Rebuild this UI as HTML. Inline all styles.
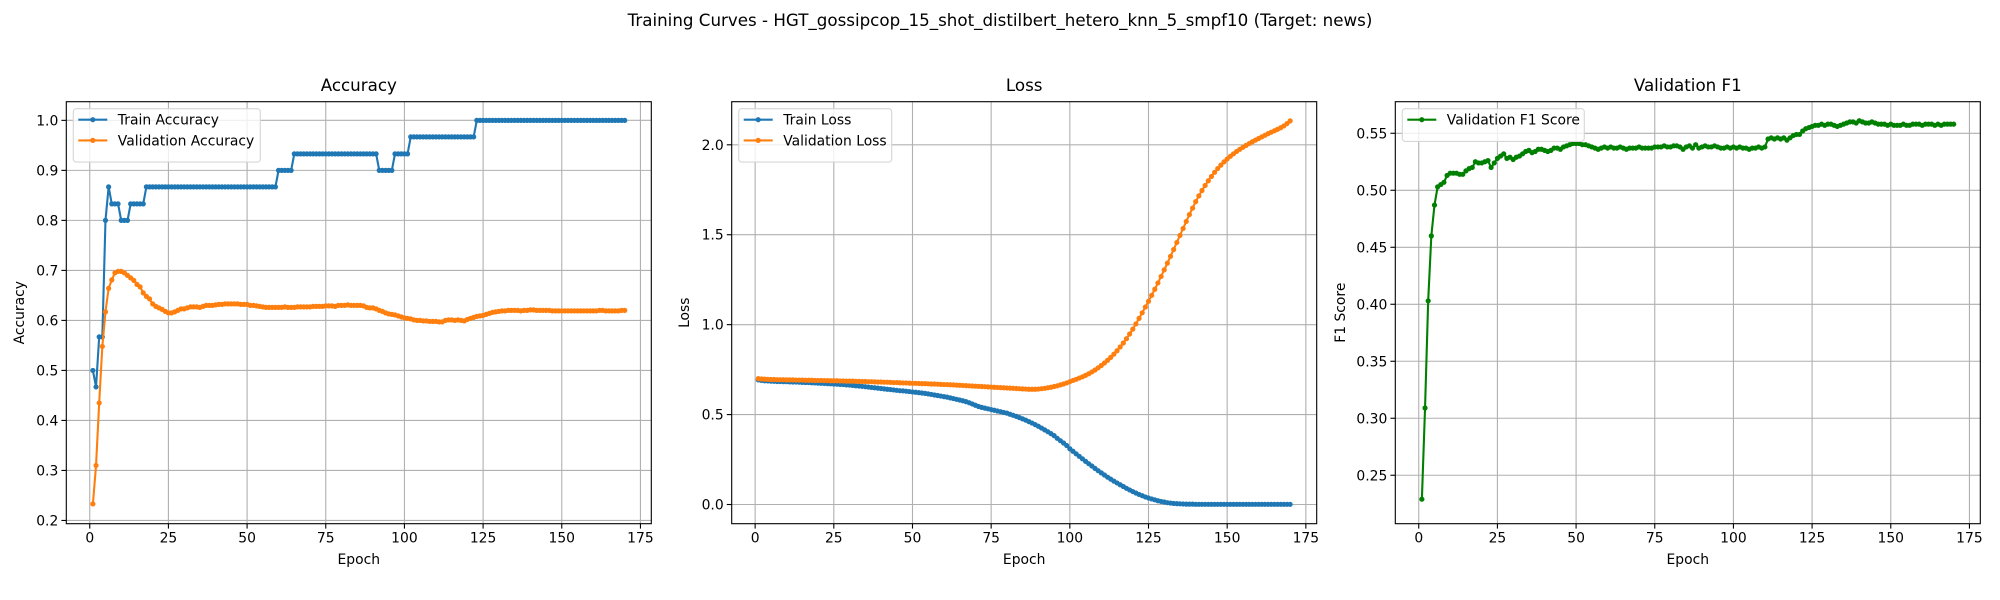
<!DOCTYPE html>
<html><head><meta charset="utf-8"><style>
html,body{margin:0;padding:0;background:#fff;}
svg{display:block;font-family:"DejaVu Sans","Liberation Sans",sans-serif;}
</style></head><body>
<svg id="fig" width="2000" height="600" viewBox="0 0 2000 600" xmlns="http://www.w3.org/2000/svg">
<rect width="2000" height="600" fill="#fff"/>
<text x="1000" y="26" text-anchor="middle" font-size="16.7" fill="#000">Training Curves - HGT_gossipcop_15_shot_distilbert_hetero_knn_5_smpf10 (Target: news)</text>
</svg>
<script>
const xTicks = [0,25,50,75,100,125,150,175];
const accTicks = [0.2,0.3,0.4,0.5,0.6,0.7,0.8,0.9,1.0];
const lossTicks = [0.0,0.5,1.0,1.5,2.0];
const f1Ticks = [0.25,0.30,0.35,0.40,0.45,0.50,0.55];

const trainAcc = [
.5,.467,.567,.567,.8,.867,.833,.833,.833,.8,
.8,.8,.833,.833,.833,.833,.833,.867,.867,.867,
.867,.867,.867,.867,.867,.867,.867,.867,.867,.867,
.867,.867,.867,.867,.867,.867,.867,.867,.867,.867,
.867,.867,.867,.867,.867,.867,.867,.867,.867,.867,
.867,.867,.867,.867,.867,.867,.867,.867,.867,.9,
.9,.9,.9,.9,.933,.933,.933,.933,.933,.933,
.933,.933,.933,.933,.933,.933,.933,.933,.933,.933,
.933,.933,.933,.933,.933,.933,.933,.933,.933,.933,
.933,.9,.9,.9,.9,.9,.933,.933,.933,.933,
.933,.967,.967,.967,.967,.967,.967,.967,.967,.967,
.967,.967,.967,.967,.967,.967,.967,.967,.967,.967,
.967,.967,1,1,1,1,1,1,1,1,
1,1,1,1,1,1,1,1,1,1,
1,1,1,1,1,1,1,1,1,1,
1,1,1,1,1,1,1,1,1,1,
1,1,1,1,1,1,1,1,1,1];
const valAcc = [
.233,.31,.435,.548,.617,.664,.681,.695,.698,.698,
.695,.69,.685,.68,.672,.667,.655,.648,.643,.633,
.628,.625,.622,.618,.615,.615,.617,.62,.623,.623,
.625,.627,.627,.627,.626,.628,.63,.63,.63,.631,
.632,.632,.633,.633,.633,.633,.633,.632,.632,.632,
.63,.63,.629,.628,.627,.626,.626,.626,.626,.626,
.626,.627,.626,.626,.626,.627,.627,.627,.627,.627,
.628,.628,.628,.628,.629,.629,.629,.628,.63,.63,
.63,.631,.63,.63,.63,.63,.629,.626,.625,.625,
.623,.62,.618,.615,.613,.612,.611,.609,.607,.605,
.604,.603,.601,.6,.6,.599,.599,.598,.598,.598,
.597,.597,.6,.601,.601,.6,.601,.6,.599,.602,
.604,.606,.608,.609,.61,.612,.614,.616,.617,.618,
.619,.619,.62,.62,.62,.62,.619,.62,.62,.621,
.621,.62,.62,.62,.62,.62,.619,.619,.619,.619,
.619,.619,.619,.619,.619,.619,.619,.619,.619,.619,
.619,.62,.62,.619,.619,.619,.619,.619,.62,.62];
const trainLoss = [
.693,.69,.688,.687,.686,.685,.684,.684,.683,.683,
.682,.681,.681,.68,.679,.678,.678,.677,.676,.675,
.674,.673,.672,.671,.67,.669,.668,.667,.665,.664,
.662,.66,.659,.657,.655,.653,.651,.649,.647,.645,
.643,.641,.639,.637,.635,.633,.632,.63,.628,.626,
.624,.622,.62,.618,.615,.612,.609,.606,.603,.6,
.597,.593,.589,.585,.581,.577,.572,.566,.559,.552,
.545,.54,.536,.532,.528,.524,.52,.516,.512,.508,
.502,.496,.49,.483,.476,.469,.461,.453,.444,.435,
.425,.415,.405,.394,.383,.368,.355,.342,.328,.31,
.296,.282,.268,.254,.24,.227,.214,.201,.188,.176,
.164,.152,.141,.13,.12,.11,.1,.09,.081,.072,
.064,.056,.049,.042,.036,.031,.026,.021,.017,.014,
.01,.008,.006,.005,.004,.003,.002,.002,.002,.001,
.001,.001,.001,.001,.001,.001,.001,.001,.001,.001,
.001,.001,.001,.001,.001,.001,.001,.001,.001,.001,
.001,.001,.001,.001,.001,.001,.001,.001,.001,.001];
const valLoss = [
.7,.698,.697,.696,.695,.695,.694,.694,.694,.693,
.693,.693,.692,.692,.692,.691,.691,.691,.69,.69,
.69,.689,.689,.688,.688,.688,.687,.687,.686,.686,
.686,.685,.685,.684,.684,.683,.683,.682,.681,.681,
.68,.68,.679,.678,.678,.677,.676,.676,.675,.674,
.674,.673,.672,.672,.671,.67,.67,.669,.668,.667,
.667,.666,.665,.664,.663,.662,.661,.66,.659,.658,
.657,.656,.655,.654,.653,.652,.651,.65,.649,.648,
.647,.646,.645,.644,.643,.642,.641,.641,.641,.642,
.644,.646,.649,.652,.656,.66,.665,.67,.676,.683,
.69,.696,.703,.71,.718,.727,.737,.748,.76,.773,
.787,.802,.818,.836,.855,.876,.898,.922,.948,.975,
1.004,1.035,1.066,1.098,1.13,1.163,1.197,1.232,1.268,1.305,
1.342,1.38,1.418,1.457,1.496,1.535,1.574,1.612,1.648,1.684,
1.716,1.746,1.774,1.8,1.824,1.847,1.868,1.887,1.905,1.921,
1.936,1.95,1.963,1.975,1.986,1.997,2.007,2.017,2.026,2.035,
2.044,2.053,2.062,2.07,2.078,2.086,2.095,2.105,2.118,2.133];
const valF1 = [
.229,.309,.403,.46,.487,.503,.505,.507,.513,.515,
.515,.515,.514,.514,.517,.519,.52,.525,.524,.524,
.525,.526,.52,.524,.528,.53,.532,.528,.529,.527,
.529,.53,.532,.534,.535,.533,.534,.536,.536,.535,
.534,.535,.537,.537,.536,.538,.539,.54,.541,.541,
.541,.54,.54,.539,.538,.537,.536,.537,.538,.537,
.538,.537,.537,.538,.537,.536,.537,.537,.537,.538,
.537,.537,.537,.537,.538,.538,.538,.539,.538,.538,
.539,.539,.538,.536,.538,.539,.537,.54,.537,.538,
.539,.538,.538,.539,.538,.537,.537,.538,.537,.538,
.537,.538,.537,.537,.536,.537,.537,.538,.537,.538,
.545,.546,.545,.546,.545,.546,.544,.546,.548,.549,
.549,.552,.554,.555,.556,.557,.557,.558,.557,.558,
.558,.557,.556,.557,.558,.559,.56,.56,.559,.561,
.56,.559,.559,.56,.559,.558,.558,.558,.557,.558,
.557,.557,.557,.558,.557,.557,.558,.558,.558,.557,
.558,.558,.558,.557,.558,.557,.558,.558,.558,.558];

const NS = "http://www.w3.org/2000/svg";
const svg = document.getElementById('fig');
function mk(tag, attrs, parent){
  const e = document.createElementNS(NS, tag);
  for (const k in attrs) e.setAttribute(k, attrs[k]);
  (parent||svg).appendChild(e);
  return e;
}
const TOP = 101.7, BOT = 523.7, W = 585;
const XMIN = -7.45, XMAX = 178.45;
const MR = 2.6;

function panel(cfg){
  const L = cfg.left, R = L + W;
  const g = mk('g', {});
  
  
  const sx = v => L + (v - XMIN) / (XMAX - XMIN) * W;
  const sy = v => BOT - (v - cfg.ymin) / (cfg.ymax - cfg.ymin) * (BOT - TOP);
  xTicks.forEach(t => {
    const x = sx(t);
    const gl = mk('line', {x1:x, x2:x, y1:TOP, y2:BOT, stroke:'#b0b0b0', 'stroke-width':1.1}, g);
    
    
    const tk = mk('line', {x1:x, x2:x, y1:BOT, y2:BOT+4.9, stroke:'#000', 'stroke-width':1.1}, g);
    
    
    const tl = mk('text', {x:x, y:BOT+19, 'text-anchor':'middle', 'font-size':13.9, fill:'#000'}, g);
    tl.textContent = String(t);
    
    
  });
  cfg.yticks.forEach(t => {
    const y = sy(t);
    const gl = mk('line', {x1:L, x2:R, y1:y, y2:y, stroke:'#b0b0b0', 'stroke-width':1.1}, g);
    
    
    const tk = mk('line', {x1:L-4.9, x2:L, y1:y, y2:y, stroke:'#000', 'stroke-width':1.1}, g);
    
    
    const tl = mk('text', {x:L-8, y:y+5, 'text-anchor':'end', 'font-size':13.9, fill:'#000'}, g);
    tl.textContent = t.toFixed(cfg.dec);
    
    
  });
  cfg.series.forEach(s => {
    const pts = s.data.map((v,i) => sx(i+1).toFixed(2) + ',' + sy(v).toFixed(2)).join(' ');
    const pl = mk('polyline', {points:pts, fill:'none', stroke:s.color, 'stroke-width':2.1, 'stroke-linejoin':'round'}, g);
    
    
    const mg = mk('g', {fill:s.color}, g);
    
    
    s.data.forEach((v,i) => {
      const c = mk('circle', {cx:sx(i+1), cy:sy(v), r:MR}, mg);
      
      
    });
  });
  const fr = mk('rect', {x:L, y:TOP, width:W, height:BOT-TOP, fill:'none', stroke:'#000', 'stroke-width':1.1}, g);
  
  
  const tt = mk('text', {x:L+W/2, y:91, 'text-anchor':'middle', 'font-size':16.7, fill:'#000'}, g);
  tt.textContent = cfg.title;
  
  
  const xl = mk('text', {x:L+W/2, y:564, 'text-anchor':'middle', 'font-size':13.9, fill:'#000'}, g);
  xl.textContent = 'Epoch';
  
  
  const yx = cfg.ylabelX, yc = (TOP+BOT)/2;
  const yl = mk('text', {x:yx, y:yc, 'text-anchor':'middle', 'font-size':13.9, fill:'#000', transform:'rotate(-90 '+yx+' '+yc+')'}, g);
  yl.textContent = cfg.ylabel;
  
  
  const lx = L + 7, ly = TOP + 7, n = cfg.series.length;
  const lg = mk('g', {}, g);
  
  
  mk('rect', {x:lx, y:ly, width:cfg.legW, height:12 + n*20.7, rx:3, fill:'#fff', 'fill-opacity':0.8, stroke:'#d6d6d6', 'stroke-width':1.1}, lg);
  cfg.series.forEach((s,i) => {
    const yy = ly + 11 + i*20.7;
    const le = mk('g', {}, lg);
    
    
    mk('line', {x1:lx+5, x2:lx+34, y1:yy, y2:yy, stroke:s.color, 'stroke-width':2.1}, le);
    mk('circle', {cx:lx+19.5, cy:yy, r:MR, fill:s.color}, le);
    const t = mk('text', {x:lx+44.5, y:yy+5, 'font-size':13.9, fill:'#000'}, le);
    t.textContent = s.label;
  });
}

panel({name:'accuracy', left:66.3, ymin:0.1935, ymax:1.0373, yticks:accTicks, dec:1,
  title:'Accuracy', ylabel:'Accuracy', ylabelX:24, legW:187,
  series:[{key:'train-accuracy', label:'Train Accuracy', color:'#1f77b4', data:trainAcc},
          {key:'validation-accuracy', label:'Validation Accuracy', color:'#ff7f0e', data:valAcc}]});
panel({name:'loss', left:731.7, ymin:-0.1067, ymax:2.2397, yticks:lossTicks, dec:1,
  title:'Loss', ylabel:'Loss', ylabelX:689, legW:153,
  series:[{key:'train-loss', label:'Train Loss', color:'#1f77b4', data:trainLoss},
          {key:'validation-loss', label:'Validation Loss', color:'#ff7f0e', data:valLoss}]});
panel({name:'f1', left:1395.3, ymin:0.2075, ymax:0.5777, yticks:f1Ticks, dec:2,
  title:'Validation F1', ylabel:'F1 Score', ylabelX:1345, legW:182,
  series:[{key:'validation-f1', label:'Validation F1 Score', color:'#008000', data:valF1}]});
</script>
</body></html>
